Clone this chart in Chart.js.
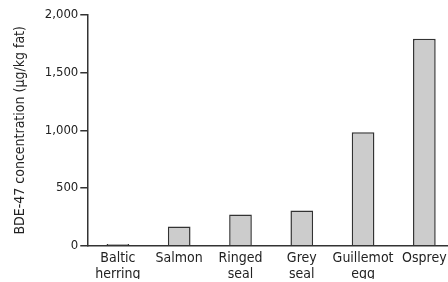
<!DOCTYPE html>
<html>
<head>
<meta charset="utf-8">
<script src="https://cdn.jsdelivr.net/npm/chart.js@4/dist/chart.umd.min.js"></script>
<style>
    html, body { margin: 0; padding: 0; background: #fff; overflow: hidden; }
    #wrap { width: 448px; height: 282px; overflow: hidden; }
</style>
</head>
<body>
<div id="wrap"><canvas id="mainChart" width="455" height="282"></canvas></div>
<script>
/* datos */
const categories = [
    ["Baltic", "herring"],
    "Salmon",
    ["Ringed", "seal"],
    ["Grey", "seal"],
    ["Guillemot", "egg"],
    "Osprey"
];
const bdeValues = [15, 165, 270, 304, 983, 1795];
const yTicks = [0, 500, 1000, 1500, 2000];

const FONT = "'DejaVu Sans Condensed', 'Liberation Sans Narrow', sans-serif";

Chart.defaults.font.family = FONT;
Chart.defaults.color = "#222";

const ctx = document.getElementById("mainChart").getContext("2d");

new Chart(ctx, {
    type: "bar",
    data: {
        labels: categories,
        datasets: [{
            data: bdeValues,
            backgroundColor: "#cccccc",
            borderColor: "#333333",
            borderWidth: 1.5,
            categoryPercentage: 1,
            barPercentage: 0.37
        }]
    },
    options: {
        responsive: false,
        animation: false,
        layout: { padding: { top: 15, left: 12, right: 0, bottom: 3 } },
        plugins: {
            legend: { display: false },
            tooltip: { enabled: false }
        },
        scales: {
            x: {
                grid: { display: false },
                border: { color: "#333", width: 1.5 },
                ticks: {
                    color: "#222",
                    font: { size: 14, lineHeight: 1.12 },
                    padding: -3,
                    maxRotation: 0,
                    autoSkip: false
                }
            },
            y: {
                min: 0,
                max: 2000,
                afterBuildTicks: scale => {
                    scale.ticks = yTicks.map(v => ({ value: v }));
                },
                grid: {
                    drawOnChartArea: false,
                    drawTicks: true,
                    tickLength: 7,
                    color: "#333",
                    lineWidth: 1.5
                },
                border: { color: "#333", width: 1.5 },
                ticks: {
                    color: "#222",
                    font: { size: 13 },
                    padding: 2,
                    callback: v => v.toLocaleString("en-US")
                },
                title: {
                    display: true,
                    text: "BDE-47 concentration (µg/kg fat)",
                    color: "#222",
                    font: { size: 14 },
                    padding: { top: 0, bottom: 14 }
                }
            }
        }
    }
});
</script>
</body>
</html>
